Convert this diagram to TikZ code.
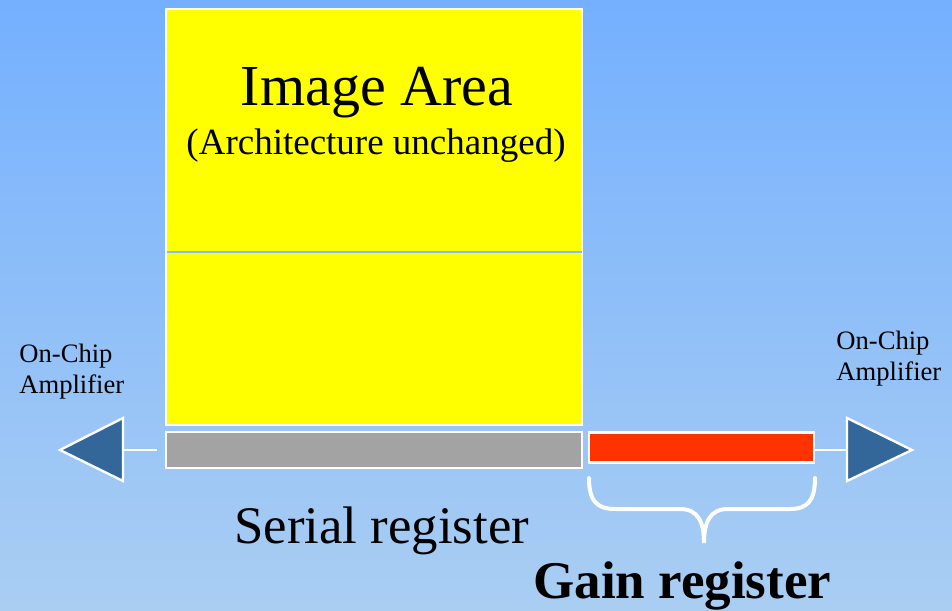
\documentclass[tikz,border=0pt]{standalone}
\usepackage{fontspec}
\setmainfont{Liberation Serif}
\definecolor{bgtop}{RGB}{116,176,255}
\definecolor{bgbot}{RGB}{170,206,242}
\definecolor{tri}{RGB}{51,102,153}
\definecolor{gainred}{RGB}{255,51,0}
\definecolor{greyreg}{RGB}{163,163,163}
\definecolor{divline}{RGB}{130,190,255}
\definecolor{imgyellow}{RGB}{255,255,0}
\tikzset{
  box/.style={draw=white, line width=1.2pt, inner sep=0pt, outer sep=0pt},
  amp/.style={draw=white, line width=1.2pt, fill=tri, line join=miter},
  wire/.style={draw=white, line width=1.2pt},
  txt/.style={inner sep=0pt, anchor=base, text=black},
}
\begin{document}
\begin{tikzpicture}[x=0.5pt,y=-0.5pt]
\useasboundingbox (0,0) rectangle (952,610);
\shade[top color=bgtop,bottom color=bgbot] (0,0) rectangle (952,610);
% image area
\node[box, fill=imgyellow, minimum width=208pt, minimum height=208pt] (img) at (374,217) {};
\draw[divline, line width=0.6pt] ([xshift=0.6pt]img.west) ++(0,35) coordinate (d1) -- (d1 -| img.east);
% serial register
\node[box, fill=greyreg, minimum width=208pt, minimum height=18pt] (ser) at (374,450) {};
% gain register
\node[box, fill=gainred, minimum width=112.5pt, minimum height=15pt] (gain) at (701.5,447.5) {};
% amplifiers
\coordinate (lbase) at (123,450);
\coordinate (rbase) at (847,450);
\draw[amp] (60,450) -- (123,418) -- (123,481) -- cycle;
\draw[amp] (912,450) -- (847,418) -- (847,481) -- cycle;
\coordinate (lwire) at (157,450);
\draw[wire] (lwire) -- (lbase);
\draw[wire] (gain.east |- rbase) -- (rbase);
% brace
\draw[white, line width=2pt, line cap=round]
  (589,478) .. controls (589,500) and (596,509) .. (615,509) -- (680,509)
  .. controls (698,509) and (704,522) .. (704,543)
  .. controls (704,522) and (710,509) .. (728,509) -- (790,509)
  .. controls (808,509) and (815,500) .. (815,478);
% texts
\node[txt, font=\fontsize{29pt}{30pt}\selectfont] (t1) at (377,105) {Image Area};
\node[txt, font=\fontsize{18.5pt}{20pt}\selectfont] (t2) at (376,155) {(Architecture unchanged)};
\node[txt, anchor=base west, font=\fontsize{26.4pt}{28pt}\selectfont] (t3) at (234,543) {Serial register};
\node[txt, anchor=base west, font=\fontsize{26.5pt}{28pt}\selectfont\bfseries] (t4) at (533,598) {Gain register};
\node[txt, anchor=base west, font=\fontsize{13.3pt}{15pt}\selectfont] (a1) at (19,362) {On-Chip};
\node[txt, anchor=base west, font=\fontsize{13.3pt}{15pt}\selectfont] (a2) at (19,393) {Amplifier};
\node[txt, anchor=base west, font=\fontsize{13.3pt}{15pt}\selectfont] (a3) at (836,349) {On-Chip};
\node[txt, anchor=base west, font=\fontsize{13.3pt}{15pt}\selectfont] (a4) at (836,380) {Amplifier};
\end{tikzpicture}
\end{document}
